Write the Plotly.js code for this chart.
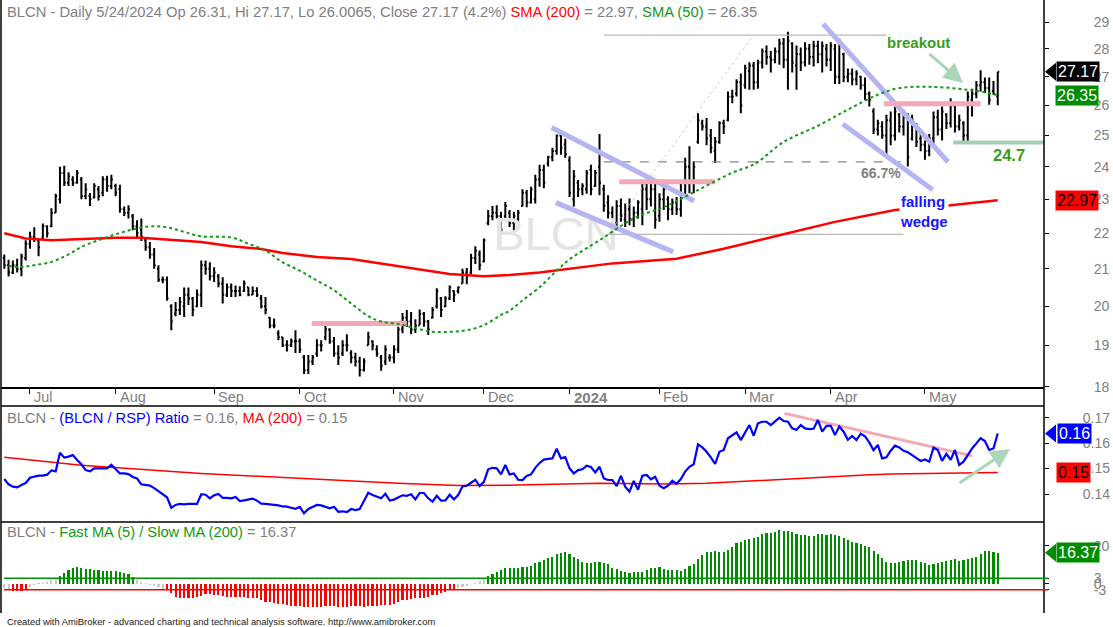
<!DOCTYPE html>
<html><head><meta charset="utf-8">
<script src="https://cdn.plot.ly/plotly-3.0.1.min.js"></script>
<style>html,body{margin:0;padding:0;background:#fff;overflow:hidden}#chart{width:1113px;height:627px}</style>
</head><body><div id="chart"></div>
<script>
// ---------- DATA ----------
const monthTickIdx = [6,26,49,69,91,112,132,153,173,193,215];
const monthLabels  = ['Jul','Aug','Sep','Oct','Nov','Dec','2024','Feb','Mar','Apr','May'];

const highArr = [
21.40,21.25,21.23,21.28,21.42,21.80,22.04,22.17,21.85,22.28,
22.23,22.73,23.17,24.00,24.03,23.83,23.70,23.90,23.68,23.49,
23.19,23.49,23.40,23.70,23.72,23.75,23.47,23.44,22.78,22.82,
22.56,22.38,22.43,21.88,21.75,21.58,21.10,20.79,20.79,20.05,
20.11,20.24,20.49,20.49,20.24,20.44,21.23,21.23,21.18,21.04,
20.86,20.77,20.60,20.60,20.55,20.53,20.68,20.50,20.52,20.50,
20.29,20.24,19.72,19.68,19.38,19.21,19.13,19.17,19.38,19.17,
18.76,18.76,18.76,19.15,19.13,19.54,19.43,19.21,19.00,19.13,
19.28,18.88,18.82,18.72,18.68,19.34,19.13,19.00,18.76,19.00,
18.78,19.00,19.47,19.82,19.90,19.85,19.66,19.91,19.85,19.64,
19.98,20.47,20.24,20.26,20.55,20.42,20.52,21.00,21.02,21.42,
21.63,21.51,21.85,22.68,22.80,22.82,22.63,22.92,22.68,22.63,
22.68,23.30,23.28,23.38,23.75,24.06,24.06,24.35,24.60,25.03,
25.03,24.89,24.33,23.90,23.59,23.49,23.90,24.06,23.90,25.05,
23.44,23.12,22.78,22.97,23.02,22.87,23.02,22.78,22.97,23.49,
23.59,23.49,23.47,23.18,23.44,23.09,23.02,23.07,23.59,24.28,
24.65,24.17,25.74,25.52,25.58,25.21,24.95,25.47,25.52,26.48,
26.54,26.91,27.11,27.42,27.51,27.52,27.60,28.01,28.12,27.92,
28.05,28.37,28.40,28.63,28.24,28.12,28.05,28.24,28.18,28.30,
28.30,28.27,28.18,28.24,28.18,28.37,27.86,27.29,27.29,27.23,
27.03,26.97,26.48,25.91,25.52,25.47,25.69,25.80,25.97,25.74,
25.86,25.74,25.69,25.41,25.05,24.84,25.05,25.80,25.86,25.97,
25.74,26.25,26.08,25.69,25.47,26.48,26.58,26.85,27.23,26.97,
26.97,26.85,27.17];
const lowArr = [
21.00,20.79,20.86,20.90,20.80,21.23,21.56,21.75,21.35,21.82,
21.88,22.17,22.60,22.87,23.40,23.40,23.40,23.47,23.00,23.00,
22.80,23.02,22.96,23.09,23.23,23.30,23.09,22.60,22.50,22.43,
22.09,21.85,21.78,21.50,21.28,21.00,20.64,20.61,20.14,19.38,
19.74,19.77,19.72,20.03,19.74,19.97,19.98,20.84,20.68,20.64,
20.50,20.07,20.24,20.24,20.24,20.26,20.38,20.26,20.29,20.24,
19.94,19.79,19.43,19.43,19.13,18.96,18.85,18.96,18.81,18.81,
18.30,18.30,18.52,18.72,18.85,19.13,19.04,18.72,18.52,18.74,
18.85,18.56,18.48,18.24,18.36,19.00,18.88,18.72,18.38,18.52,
18.60,18.56,18.81,19.30,19.47,19.28,19.31,19.51,19.47,19.26,
19.68,19.94,19.72,19.97,20.16,20.11,20.33,20.60,20.58,20.86,
21.13,20.96,21.18,22.23,22.38,22.43,21.97,22.43,22.18,22.08,
22.28,22.78,22.76,22.87,22.87,23.38,23.33,24.01,24.17,24.38,
24.38,24.28,23.07,22.78,23.07,23.12,23.17,23.12,23.38,23.12,
22.63,22.43,22.08,22.08,22.33,22.18,22.23,22.18,22.43,22.23,
22.68,22.78,22.13,22.33,22.68,22.38,22.53,22.53,22.48,23.12,
23.18,23.18,24.73,25.16,24.68,24.43,24.12,24.73,25.05,25.47,
26.08,26.31,25.74,26.58,26.54,26.54,26.58,27.29,27.42,27.15,
27.48,27.42,27.30,26.54,27.15,26.54,27.20,27.36,27.42,27.36,
27.48,27.15,27.36,27.20,26.74,26.74,26.80,26.80,26.70,26.70,
26.54,26.19,25.97,25.05,25.00,24.89,24.38,24.68,24.84,25.10,
25.00,24.01,24.84,24.63,24.49,24.22,24.33,24.63,25.00,24.84,
25.21,25.26,25.10,25.16,24.79,24.79,25.63,26.25,26.48,26.43,
26.03,26.37,26.0065];
const closeArr = [
21.10,20.90,21.10,21.00,21.35,21.70,21.90,21.85,21.60,22.20,
22.00,22.60,23.10,23.80,23.50,23.70,23.50,23.80,23.10,23.30,
23.00,23.40,23.10,23.60,23.40,23.60,23.20,22.70,22.60,22.70,
22.20,22.00,21.90,21.60,21.40,21.10,20.70,20.70,20.20,19.60,
19.90,20.10,20.30,20.20,19.90,20.30,21.10,21.00,20.80,20.90,
20.60,20.30,20.50,20.40,20.40,20.30,20.60,20.30,20.40,20.30,
20.00,19.90,19.50,19.50,19.20,19.00,19.00,19.10,19.10,18.90,
18.40,18.60,18.70,19.00,19.00,19.40,19.10,18.80,18.70,19.00,
19.00,18.70,18.60,18.40,18.60,19.20,19.00,18.80,18.50,18.90,
18.70,18.90,19.40,19.70,19.60,19.40,19.50,19.80,19.60,19.40,
19.90,20.40,19.90,20.20,20.50,20.30,20.50,20.90,20.80,21.30,
21.50,21.10,21.80,22.50,22.60,22.50,22.10,22.80,22.30,22.50,
22.60,23.20,22.90,23.30,23.60,23.90,23.50,24.30,24.50,25.00,
24.60,24.40,23.20,23.70,23.30,23.40,23.80,23.30,23.80,23.50,
22.80,22.60,22.30,22.80,22.50,22.70,22.40,22.60,22.90,23.30,
23.00,23.30,22.40,23.00,23.30,22.70,22.90,22.70,23.50,24.00,
23.50,24.00,25.50,25.30,24.90,24.60,24.80,25.40,25.30,26.30,
26.30,26.80,26.00,27.30,27.40,26.80,27.50,27.90,27.70,27.60,
27.90,28.20,27.60,28.30,27.50,27.80,27.50,28.00,27.70,28.10,
27.80,28.10,27.60,28.10,27.00,28.20,27.00,27.10,26.90,27.10,
26.70,26.40,26.20,25.20,25.40,25.00,25.50,25.00,25.80,25.30,
25.60,24.30,25.50,24.80,24.70,24.50,24.90,25.60,25.20,25.80,
25.40,26.00,25.30,25.50,25.00,26.30,26.40,26.70,26.80,26.60,
26.20,26.40,27.17];
const openArr = [
21.30,21.10,20.90,21.10,21.00,21.30,21.70,21.90,21.80,21.85,
22.20,22.20,22.60,23.00,23.80,23.50,23.60,23.50,23.60,23.10,
23.10,23.05,23.30,23.20,23.60,23.40,23.40,23.30,22.70,22.60,
22.50,22.20,22.10,21.80,21.60,21.40,21.00,20.70,20.70,20.00,
19.80,19.90,20.00,20.30,20.20,20.00,20.30,21.10,21.00,20.80,
20.80,20.60,20.30,20.50,20.40,20.40,20.40,20.50,20.30,20.40,
20.20,20.00,19.70,19.50,19.30,19.20,19.00,19.00,19.10,19.10,
18.70,18.40,18.60,18.80,19.00,19.20,19.40,19.10,18.80,18.80,
19.00,18.80,18.70,18.60,18.40,19.00,19.10,18.90,18.70,18.60,
18.70,18.70,18.90,19.40,19.70,19.60,19.40,19.50,19.80,19.60,
19.70,20.00,20.20,20.00,20.20,20.40,20.40,20.60,20.90,20.90,
21.30,21.40,21.20,22.30,22.50,22.60,22.50,22.50,22.60,22.30,
22.40,22.80,23.20,22.90,23.00,23.60,23.90,24.10,24.30,24.50,
25.00,24.70,24.20,23.00,23.50,23.30,23.30,23.90,23.40,24.00,
23.30,22.90,22.60,22.30,22.80,22.40,22.70,22.40,22.60,22.70,
23.30,23.00,23.30,22.50,23.00,23.00,22.70,22.90,22.70,23.50,
24.00,23.50,24.80,25.40,25.30,25.00,24.50,24.80,25.40,25.50,
26.30,26.40,26.80,26.70,27.20,27.40,26.80,27.50,27.90,27.70,
27.60,27.90,28.20,27.60,28.20,27.40,27.80,27.50,28.00,27.70,
28.10,27.80,28.00,27.60,28.00,27.00,27.80,27.00,27.10,26.90,
27.00,26.70,26.40,25.80,25.20,25.30,25.00,25.50,25.00,25.70,
25.30,25.60,24.90,25.30,24.90,24.70,24.50,24.90,25.60,25.20,
25.70,25.40,26.00,25.30,25.40,25.00,26.20,26.40,26.70,26.80,
26.60,26.50,26.31];

// SMA lines read at sample bars
const sma200Idx = [0,5,11,18,26,32,38,46,53,60,65,73,81,88,96,104,112,118,125,142,157,168,181,194,208,221,232];
const sma200Val = [22.0,21.85,21.8,21.84,21.87,21.87,21.82,21.75,21.63,21.55,21.44,21.33,21.27,21.15,21.0,20.86,20.8,20.83,20.9,21.15,21.28,21.56,21.94,22.33,22.68,22.82,22.97];
const sma50Idx = [1,4,7,11,15,18,22,26,30,34,38,42,46,53,57,61,65,69,73,77,81,85,88,92,96,100,104,108,112,116,118,121,125,129,132,139,147,155,162,170,174,176,182,190,197,204,209,217,225,229,232];
const sma50Val = [21.08,21.05,21.1,21.19,21.4,21.61,21.8,21.97,22.11,22.2,22.17,22.04,21.91,21.88,21.7,21.51,21.18,20.95,20.68,20.42,20.07,19.74,19.6,19.54,19.43,19.34,19.34,19.38,19.51,19.77,19.88,20.15,20.5,20.95,21.26,21.8,22.43,22.82,23.28,23.81,24.01,24.15,24.79,25.32,25.86,26.37,26.6,26.64,26.54,26.45,26.35];

// BLCN / RSP ratio
const ratioVal = [
.1459,.1438,.1429,.1426,.1435,.1443,.1464,.1467,.1472,.1472,
.1476,.1493,.1489,.1562,.1543,.1547,.1553,.1534,.1517,.1494,
.1489,.1501,.1501,.1499,.1501,.1515,.1498,.1481,.1481,.1478,
.1467,.1461,.1438,.1435,.1433,.1423,.1412,.1400,.1387,.1346,
.1357,.1361,.1359,.1361,.1361,.1361,.1399,.1397,.1383,.1395,
.1400,.1385,.1385,.1383,.1388,.1372,.1375,.1379,.1382,.1374,
.1362,.1361,.1359,.1359,.1355,.1351,.1350,.1346,.1342,.1349,
.1324,.1341,.1349,.1357,.1355,.1350,.1344,.1350,.1330,.1332,
.1329,.1341,.1337,.1341,.1376,.1405,.1396,.1389,.1383,.1401,
.1374,.1378,.1385,.1395,.1393,.1399,.1379,.1404,.1404,.1383,
.1370,.1393,.1374,.1375,.1397,.1379,.1396,.1430,.1433,.1443,
.1456,.1431,.1448,.1497,.1503,.1501,.1477,.1514,.1477,.1481,
.1456,.1455,.1471,.1477,.1503,.1522,.1535,.1538,.1540,.1578,
.1540,.1545,.1501,.1481,.1494,.1497,.1511,.1506,.1485,.1507,
.1461,.1455,.1455,.1431,.1471,.1429,.1409,.1451,.1417,.1472,
.1475,.1458,.1468,.1433,.1423,.1433,.1452,.1440,.1459,.1488,
.1507,.1517,.1595,.1583,.1566,.1544,.1518,.1566,.1573,.1619,
.1629,.1642,.1612,.1641,.1671,.1629,.1678,.1684,.1684,.1671,
.1684,.1700,.1687,.1684,.1658,.1652,.1671,.1658,.1655,.1657,
.1691,.1645,.1668,.1668,.1632,.1665,.1645,.1613,.1628,.1612,
.1637,.1627,.1603,.1572,.1593,.1540,.1544,.1570,.1590,.1583,
.1570,.1564,.1553,.1540,.1530,.1536,.1527,.1582,.1573,.1530,
.1558,.1534,.1573,.1514,.1527,.1553,.1579,.1599,.1619,.1608,
.1573,.1579,.1638];
const ratioMaIdx = [0,18,46,61,77,92,106,120,139,155,164,178,190,201,207,222,232];
const ratioMaVal = [.1544,.1513,.1481,.1468,.1452,.1442,.1433,.1435,.1442,.1439,.1442,.1455,.1467,.1475,.1479,.1483,.1485];

// Fast MA(5) / Slow MA(200) oscillator
const oscVal = [
-2.0,-2.8,-3.5,-3.5,-3.5,-3.3,-1.5,-0.5,0.3,0.3,
1.0,2.0,2.8,4.4,5.6,7.4,8.2,9.0,8.2,7.9,
7.7,7.4,7.4,6.8,7.0,7.0,7.0,6.5,5.6,5.1,
3.9,2.0,1.2,0.5,-0.3,-1.0,-1.8,-2.5,-3.2,-4.9,
-6.7,-7.2,-7.5,-7.5,-7.2,-6.8,-6.1,-5.4,-5.4,-5.8,
-5.8,-6.1,-6.7,-6.7,-6.7,-6.7,-7.0,-7.2,-7.5,-7.5,
-8.4,-9.3,-9.6,-10.2,-10.5,-10.7,-11.1,-11.4,-11.4,-11.6,
-11.9,-11.9,-11.9,-11.9,-11.9,-11.6,-11.4,-11.4,-11.9,-11.9,
-11.9,-11.6,-11.4,-11.6,-11.9,-11.6,-11.4,-11.4,-11.1,-11.1,
-11.1,-10.5,-9.3,-8.4,-8.4,-8.1,-7.5,-7.2,-7.2,-6.7,
-5.8,-5.8,-4.9,-4.0,-3.2,-3.2,-2.0,-1.5,-1.0,0.0,
0.5,1.6,2.6,4.4,5.3,6.5,7.4,8.2,8.2,8.2,
8.4,8.8,9.1,9.6,11.1,11.4,12.5,13.5,14.4,15.6,
16.5,16.8,15.6,14.4,13.0,11.8,11.2,11.1,11.4,11.4,
10.9,10.4,8.2,7.7,7.0,6.5,6.0,6.1,6.5,6.5,
7.4,8.2,8.2,8.8,7.9,7.4,7.4,7.2,7.0,7.9,
9.6,10.7,13.0,15.3,16.8,17.0,17.4,17.0,17.0,17.7,
19.5,21.6,22.3,23.2,23.7,24.4,24.7,26.3,26.7,26.7,
27.5,28.2,27.9,27.9,27.5,26.3,25.8,25.8,25.4,25.3,
26.3,26.1,25.8,26.3,25.8,25.3,24.4,23.2,22.3,21.8,
20.9,20.0,19.5,17.4,15.8,13.5,11.8,11.2,11.2,11.8,
12.3,12.6,12.6,12.6,11.4,11.2,10.0,10.7,11.2,11.4,
12.3,12.6,13.0,12.3,12.6,13.2,13.5,14.4,15.8,17.4,
17.4,17.0,16.4];

// Chart-study drawings (index, value)
const grayTopX=[140,206], grayTopY=[28.51,28.51];
const grayBotX=[141,210], grayBotY=[21.97,21.97];
const retraceX=[140,210], retraceY=[24.15,24.15];
const diagX=[141,175], diagY=[21.97,28.51];
const chanUpX=[127.8,161.1], chanUpY=[25.26,22.95];
const chanLoX=[128.8,156.2], chanLoY=[22.9,21.47];
const wedgeUpX=[191.2,220.4], wedgeUpY=[28.93,24.15];
const wedgeLoX=[195.8,216.8], wedgeLoY=[25.38,23.29];
const pink1X=[71.8,94], pink1Y=[19.55,19.55];
const pink2X=[143.6,166], pink2Y=[23.53,23.53];
const pink3X=[205.4,228], pink3Y=[26.06,26.06];
const supportX=[221.6,242.8], supportY=[24.77,24.77];
const ratioTrendX=[182.2,226], ratioTrendY=[0.1717,0.155];
const watermark = 'BLCN';

// ---------- LAYOUT HELPERS ----------
const W=1113,H=627,ML=1,MR=69;
const px = x => (x-ML)/(W-ML-MR);
const py = y => (H-y)/H;
const ix = x => (x-30)/4.282+6;   // pixel -> bar index (for labels outside data)
const idx = closeArr.map((_,i)=>i);
const FONT = 'Liberation Sans, Arial, sans-serif';
const GRAY = '#808080';
const last = closeArr.length-1;

const Y1 = {d:[py(387),1], r:[1.2551,1.4749], log:true};
const Y2 = {d:[py(522),py(406)], r:[0.12899,0.1746]};
const Y3 = {d:[py(613),py(522)], r:[-15.3,32.6]};
function yPaper(ax,v){
  const t = ax.log ? Math.log10(v) : v;
  return ax.d[0] + (t-ax.r[0])/(ax.r[1]-ax.r[0])*(ax.d[1]-ax.d[0]);
}

const lavender = '#b4b4f2', pink = '#f4a7b5';
function seg(x,y,color,width,yaxis,dash){
  return {type:'scatter',mode:'lines',x:x,y:y,yaxis:yaxis||'y',line:{color:color,width:width,dash:dash||'solid'},hoverinfo:'skip',showlegend:false};
}

const traces = [
  {type:'scatter',mode:'text',x:[128.8],y:[21.86],text:[watermark],textfont:{family:'Liberation Sans Narrow, Liberation Sans, Arial',size:47,color:'#e4e4e4'},hoverinfo:'skip',showlegend:false},
  {type:'ohlc',x:idx,open:openArr,high:highArr,low:lowArr,close:closeArr,
   increasing:{line:{color:'#000000',width:2}},decreasing:{line:{color:'#000000',width:2}},
   tickwidth:0.35,hoverinfo:'skip',showlegend:false},
  seg(grayTopX,grayTopY,'#b8b8b8',1.2),
  seg(grayBotX,grayBotY,'#b8b8b8',1.2),
  seg(retraceX,retraceY,'#888888',1.2,'y','dash'),
  seg(diagX,diagY,'#cccccc',1,'y','dot'),
  seg(chanUpX,chanUpY,lavender,5),
  seg(chanLoX,chanLoY,lavender,5),
  seg(wedgeUpX,wedgeUpY,lavender,5),
  seg(wedgeLoX,wedgeLoY,lavender,5),
  seg(pink1X,pink1Y,pink,5),
  seg(pink2X,pink2Y,pink,5),
  seg(pink3X,pink3Y,pink,5),
  seg(supportX,supportY,'#a3cfb1',4),
  {type:'scatter',mode:'lines',x:sma200Idx,y:sma200Val,line:{color:'#ff0000',width:2.5},hoverinfo:'skip',showlegend:false},
  {type:'scatter',mode:'lines',x:sma50Idx,y:sma50Val,line:{color:'#109a10',width:2,dash:'dot',shape:'spline'},hoverinfo:'skip',showlegend:false},
  // ratio panel
  {type:'scatter',mode:'lines',x:ratioMaIdx,y:ratioMaVal,yaxis:'y2',line:{color:'#ff0000',width:1.5},hoverinfo:'skip',showlegend:false},
  seg(ratioTrendX,ratioTrendY,pink,3,'y2'),
  {type:'scatter',mode:'lines',x:idx,y:ratioVal,yaxis:'y2',line:{color:'#0000ff',width:2.2},hoverinfo:'skip',showlegend:false},
  // oscillator
  {type:'bar',x:idx,y:oscVal,yaxis:'y3',width:0.5,
   marker:{color:oscVal.map(v=>v>3?'#008c00':(v<-3?'#ff0000':'#c8c8c8')),line:{width:0}},hoverinfo:'skip',showlegend:false}
];

const greenTxt = '#3a9c22';
function box(xp,yp,text,bg,fc){
  return {xref:'paper',yref:'paper',x:px(xp),y:yp,text:text,showarrow:false,bgcolor:bg,borderpad:1,
    font:{family:FONT,size:16,color:fc},xanchor:'center',yanchor:'middle'};
}
function pointer(yp,color){
  const h = 9/H;
  return {type:'path',xref:'paper',yref:'paper',layer:'above',
    path:'M '+px(1045)+' '+yp+' L '+px(1056)+' '+(yp+h)+' L '+px(1056)+' '+(yp-h)+' Z',
    fillcolor:color,line:{width:0}};
}
const yClose = yPaper(Y1,closeArr[last]);
const yRatio = yPaper(Y2,0.1638);
const yOsc = yPaper(Y3,oscVal[last]);

const annotations = [
  {xref:'paper',yref:'paper',x:px(5),y:py(12),xanchor:'left',yanchor:'middle',showarrow:false,
   font:{family:FONT,size:14.75,color:GRAY},
   text:'BLCN - Daily 5/24/2024 Op 26.31, Hi 27.17, Lo 26.0065, Close 27.17 (4.2%) <span style="color:#ff0000">SMA (200)</span> = 22.97, <span style="color:#119911">SMA (50)</span> = 26.35'},
  {xref:'paper',yref:'paper',x:px(5),y:py(418),xanchor:'left',yanchor:'middle',showarrow:false,
   font:{family:FONT,size:14.7,color:GRAY},
   text:'BLCN - <span style="color:#0000ff">(BLCN / RSP) Ratio</span> = 0.16, <span style="color:#ff0000">MA (200)</span> = 0.15'},
  {xref:'paper',yref:'paper',x:px(5),y:py(532),xanchor:'left',yanchor:'middle',showarrow:false,
   font:{family:FONT,size:14.7,color:GRAY},
   text:'BLCN - <span style="color:#119911">Fast MA (5) / Slow MA (200)</span> = 16.37'},
  {xref:'paper',yref:'paper',x:px(5),y:py(621),xanchor:'left',yanchor:'middle',showarrow:false,
   font:{family:FONT,size:9.4,color:'#202020'},
   text:'Created with AmiBroker - advanced charting and technical analysis software. http://www.amibroker.com'},
  {xref:'paper',yref:'paper',x:px(918),y:py(43),xanchor:'center',yanchor:'middle',showarrow:false,
   font:{family:FONT,size:15,color:greenTxt},text:'<b>breakout</b>'},
  {xref:'paper',yref:'paper',x:px(1009),y:py(155),xanchor:'center',yanchor:'middle',showarrow:false,
   font:{family:FONT,size:16.5,color:greenTxt},text:'<b>24.7</b>'},
  {xref:'paper',yref:'paper',x:px(881),y:py(173),xanchor:'center',yanchor:'middle',showarrow:false,
   font:{family:FONT,size:14,color:GRAY},text:'<b>66.7%</b>'},
  {xref:'paper',yref:'paper',x:px(899),y:py(212),xanchor:'left',yanchor:'middle',showarrow:false,align:'left',
   bgcolor:'#ffffff',borderpad:0,
   font:{family:FONT,size:15,color:'#1515ff'},text:'<b>falling</b><br><b>wedge</b>'},
  {xref:'x',yref:'y',x:ix(963),y:Math.log10(26.78),ax:-35,ay:-30,text:'',showarrow:true,
   arrowhead:2,arrowsize:1.3,arrowwidth:3,arrowcolor:'#a9d5b9'},
  {xref:'x',yref:'y2',x:ix(1010),y:0.1577,ax:-52,ay:35,text:'',showarrow:true,
   arrowhead:2,arrowsize:1.3,arrowwidth:3,arrowcolor:'#a9d5b9'},
  box(1078,yClose,'27.17','#000000','#ffffff'),
  box(1077,yPaper(Y1,26.35),'26.35','#008c00','#ffffff'),
  box(1077,yPaper(Y1,22.97),'22.97','#ff0000','#000000'),
  box(1074,yRatio,'0.16','#0000ff','#ffffff'),
  box(1073,yPaper(Y2,0.1486),'0.15','#ff0000','#000000'),
  box(1078,yOsc,'16.37','#008c00','#ffffff')
];
monthTickIdx.forEach((t,k)=>{
  const bold = monthLabels[k]==='2024';
  annotations.push({xref:'x',yref:'paper',x:t,y:py(397),xanchor:'left',yanchor:'middle',xshift:2,showarrow:false,
    font:{family:FONT,size:bold?15:14.5,color:GRAY},text:bold?'<b>'+monthLabels[k]+'</b>':monthLabels[k]});
});

const shapes = [
  {type:'line',xref:'paper',yref:'paper',x0:1,x1:1,y0:py(613),y1:1,line:{color:'#000',width:1.5}},
  {type:'line',xref:'paper',yref:'paper',x0:0,x1:0,y0:py(613),y1:1,line:{color:'#000',width:1.5}},
  {type:'line',xref:'paper',yref:'paper',x0:0,x1:1,y0:py(406),y1:py(406),line:{color:'#000',width:1.5}},
  {type:'line',xref:'paper',yref:'paper',x0:0,x1:1,y0:py(522),y1:py(522),line:{color:'#000',width:1.5}},
  {type:'line',xref:'paper',yref:'y3',x0:px(4),x1:px(1048),y0:3,y1:3,line:{color:'#009000',width:1.5}},
  {type:'line',xref:'paper',yref:'y3',x0:px(4),x1:px(1048),y0:-3,y1:-3,line:{color:'#ff0000',width:1.5}},
  pointer(yClose,'#000000'),
  pointer(yRatio,'#0000ff'),
  pointer(yOsc,'#008c00')
];

const yTickFont = {family:FONT,size:14,color:GRAY};
const layout = {
  width:W,height:H,margin:{l:ML,r:MR,t:0,b:0,pad:0},
  paper_bgcolor:'#ffffff',plot_bgcolor:'#ffffff',showlegend:false,
  xaxis:{range:[-0.77,242.8],anchor:'y',tickvals:monthTickIdx,ticks:'outside',ticklen:5,tickcolor:'#000',tickwidth:1,
    showticklabels:false,showline:true,linecolor:'#000',linewidth:1.5,showgrid:false,zeroline:false,
    rangeslider:{visible:false},fixedrange:true},
  yaxis:{type:'log',domain:Y1.d,range:Y1.r,side:'right',anchor:'x',
    tickvals:[18,19,20,21,22,23,24,25,26,27,28,29],ticktext:['18','19','20','21','22','23','24','25','26','27','28','29'],
    ticks:'outside',ticklen:4,tickcolor:'#000',tickfont:yTickFont,ticklabelstandoff:42,
    showgrid:false,zeroline:false,showline:false,fixedrange:true},
  yaxis2:{domain:Y2.d,range:Y2.r,side:'right',anchor:'x',
    tickvals:[0.14,0.15,0.16,0.17],ticktext:['0.14','0.15','0.16','0.17'],
    ticks:'outside',ticklen:4,tickcolor:'#000',tickfont:yTickFont,ticklabelstandoff:31,
    showgrid:false,zeroline:false,showline:false,fixedrange:true},
  yaxis3:{domain:Y3.d,range:Y3.r,side:'right',anchor:'x',
    tickvals:[-3,0,3,20],ticktext:['-3','0','3','20'],
    ticks:'outside',ticklen:4,tickcolor:'#000',tickfont:yTickFont,ticklabelstandoff:42,
    showgrid:false,zeroline:false,showline:false,fixedrange:true},
  annotations:annotations,shapes:shapes,bargap:0
};
Plotly.newPlot('chart',traces,layout,{staticPlot:true,displayModeBar:false});
</script></body></html>
